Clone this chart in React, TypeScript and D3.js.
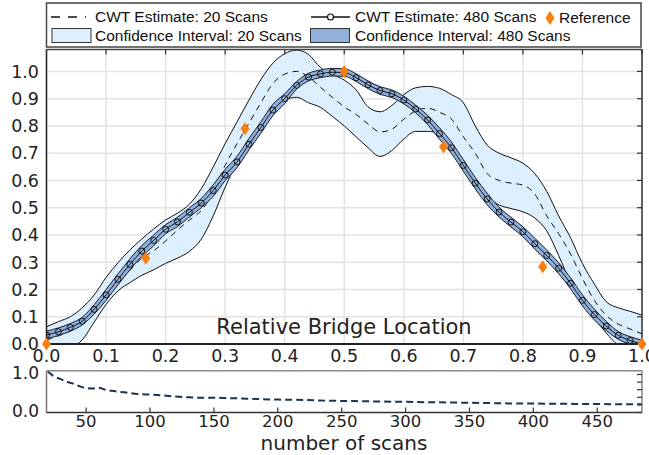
import React from 'react';
import * as d3 from 'd3';

const locations = [0,0.02,0.04,0.06,0.08,0.1,0.12,0.14,0.16,0.18,0.2,0.22,0.24,0.26,0.28,0.3,0.32,0.34,0.36,0.38,0.4,0.42,0.44,0.46,0.48,0.5,0.52,0.54,0.56,0.58,0.6,0.62,0.64,0.66,0.68,0.7,0.72,0.74,0.76,0.78,0.8,0.82,0.84,0.86,0.88,0.9,0.92,0.94,0.96,0.98,1.0];

const est20 = [0.015,0.03,0.048,0.075,0.115,0.165,0.22,0.27,0.315,0.342,0.378,0.418,0.455,0.49,0.556,0.655,0.735,0.81,0.885,0.955,0.99,1.0,0.98,0.942,0.905,0.87,0.842,0.807,0.778,0.788,0.825,0.855,0.865,0.85,0.825,0.76,0.70,0.625,0.60,0.59,0.583,0.55,0.47,0.405,0.33,0.24,0.16,0.105,0.073,0.055,0.037];
const ci20Hi = [0.063,0.082,0.10,0.133,0.18,0.244,0.298,0.345,0.385,0.422,0.455,0.48,0.513,0.57,0.65,0.735,0.815,0.895,0.97,1.03,1.065,1.078,1.062,1.015,0.99,0.968,0.932,0.87,0.852,0.875,0.915,0.94,0.945,0.938,0.915,0.885,0.80,0.73,0.70,0.683,0.663,0.625,0.56,0.47,0.39,0.295,0.22,0.155,0.133,0.12,0.106];
const ci20Lo = [-0.04,-0.03,-0.015,0.015,0.08,0.145,0.195,0.225,0.252,0.272,0.296,0.315,0.34,0.385,0.47,0.575,0.665,0.72,0.785,0.845,0.895,0.905,0.885,0.868,0.835,0.80,0.76,0.72,0.688,0.71,0.752,0.78,0.78,0.772,0.725,0.665,0.60,0.54,0.51,0.497,0.485,0.462,0.415,0.325,0.225,0.15,0.095,0.04,-0.005,-0.03,-0.04];

const est480 = [0.033,0.045,0.061,0.084,0.127,0.18,0.237,0.292,0.341,0.38,0.421,0.448,0.483,0.517,0.563,0.62,0.668,0.733,0.794,0.858,0.90,0.949,0.979,0.991,0.997,0.996,0.977,0.951,0.93,0.918,0.895,0.862,0.822,0.772,0.72,0.655,0.59,0.532,0.484,0.447,0.412,0.368,0.325,0.278,0.223,0.16,0.108,0.066,0.032,0.013,0.0];
const ci480Hi = [0.047,0.059,0.075,0.098,0.144,0.20,0.257,0.312,0.361,0.40,0.438,0.465,0.50,0.534,0.584,0.641,0.689,0.754,0.815,0.879,0.918,0.963,0.993,1.005,1.011,1.01,0.991,0.965,0.944,0.932,0.909,0.876,0.839,0.793,0.741,0.676,0.611,0.553,0.502,0.465,0.43,0.388,0.345,0.298,0.243,0.18,0.128,0.083,0.046,0.027,0.014];
const ci480Lo = [0.019,0.031,0.047,0.07,0.11,0.16,0.217,0.272,0.321,0.36,0.404,0.431,0.466,0.50,0.542,0.599,0.647,0.712,0.773,0.837,0.882,0.935,0.965,0.977,0.983,0.982,0.963,0.937,0.916,0.904,0.881,0.848,0.805,0.751,0.699,0.634,0.569,0.511,0.466,0.429,0.394,0.348,0.305,0.258,0.203,0.14,0.088,0.049,0.018,-0.001,-0.014];

const refLoc = [0, 0.1667, 0.3333, 0.5, 0.6667, 0.8333, 1.0];
const refVal = [0, 0.315, 0.79, 1.0, 0.724, 0.283, 0];

const xTicks = [0,0.1,0.2,0.3,0.4,0.5,0.6,0.7,0.8,0.9,1.0];
const yTicks = [0,0.1,0.2,0.3,0.4,0.5,0.6,0.7,0.8,0.9,1.0];

const scans = [20,25,30,35,40,45,50,55,60,65,70,80,90,100,110,120,130,140,150,160,180,200,220,240,260,280,300,320,340,360,380,400,420,440,460,480,485];
const scanErr = [1.08,0.95,0.88,0.81,0.76,0.69,0.64,0.63,0.65,0.60,0.57,0.53,0.49,0.47,0.45,0.42,0.40,0.39,0.39,0.38,0.36,0.34,0.33,0.31,0.30,0.29,0.28,0.27,0.26,0.25,0.24,0.235,0.23,0.225,0.22,0.215,0.215];
const scanTicks = [50,100,150,200,250,300,350,400,450];
const scanYTicks = [0,0.2,0.4,0.6,0.8,1.0];
const scanYLabels = [0,1.0];

const W = 649, H = 455;
const tickFont = 'DejaVu Sans, Verdana, sans-serif';
const legFont = 'Liberation Sans, Arial, sans-serif';

export default function App() {
  const x = d3.scaleLinear().domain([0, 1]).range([46.5, 642]);
  const y = d3.scaleLinear().domain([0, 1.08]).range([344, 49.6]);
  const xs = d3.scaleLinear().domain([19, 485]).range([46.5, 642]);
  const ys = d3.scaleLinear().domain([0, 1.1]).range([412.5, 370.7]);

  const idx = locations.map((_, i) => i);
  const curve = d3.curveMonotoneX;
  const lineOf = (arr: number[]) =>
    d3.line<number>().x(i => x(locations[i])).y(i => y(arr[i])).curve(curve)(idx) || '';
  const areaOf = (lo: number[], hi: number[]) =>
    d3.area<number>().x(i => x(locations[i])).y0(i => y(lo[i])).y1(i => y(hi[i])).curve(curve)(idx) || '';

  const scanLine = d3.line<number>().x((d, i) => xs(scans[i])).y(d => ys(d)).curve(d3.curveMonotoneX)(scanErr) || '';

  const [x0, x1] = x.range();
  const [yb, yt] = y.range();
  const diamond = (cx: number, cy: number, w = 4.5, h = 6.5) =>
    `M${cx},${cy - h}L${cx + w},${cy}L${cx},${cy + h}L${cx - w},${cy}Z`;

  return (
    <svg width={W} height={H} style={{ position: 'absolute', left: 0, top: 0, background: '#fff' }}>
      <defs>
        <clipPath id="plotClip">
          <rect x={x0} y={yt} width={x1 - x0} height={yb - yt} />
        </clipPath>
        <clipPath id="subClip">
          <rect x={xs.range()[0]} y={370.7} width={xs.range()[1] - xs.range()[0]} height={412.5 - 370.7} />
        </clipPath>
      </defs>
      <rect x={0} y={0} width={W} height={H} fill="#fff" />
      {/* grid */}
      <g stroke="#e3e3e3" strokeWidth={1.5}>
        {xTicks.map(t => <line key={'gx' + t} x1={x(t)} x2={x(t)} y1={yt} y2={yb} />)}
        {yTicks.map(t => <line key={'gy' + t} x1={x0} x2={x1} y1={y(t)} y2={y(t)} />)}
      </g>
      <g clipPath="url(#plotClip)">
        <path d={areaOf(ci20Lo, ci20Hi)} fill="#ddeefd" stroke="none" />
        <path d={lineOf(ci20Hi)} fill="none" stroke="#111" strokeWidth={1} />
        <path d={lineOf(ci20Lo)} fill="none" stroke="#111" strokeWidth={1} />
        <path d={lineOf(est20)} fill="none" stroke="#111" strokeWidth={1} strokeDasharray="6,5" />
        <path d={areaOf(ci480Lo, ci480Hi)} fill="#8fb1dc" stroke="none" />
        <path d={lineOf(ci480Hi)} fill="none" stroke="#1a1a2a" strokeWidth={1} />
        <path d={lineOf(ci480Lo)} fill="none" stroke="#1a1a2a" strokeWidth={1} />
        <path d={lineOf(est480)} fill="none" stroke="#111" strokeWidth={1} />
        {locations.map((l, i) => (
          <circle key={'c' + i} cx={x(l)} cy={y(est480[i])} r={3} fill="none" stroke="#111" strokeWidth={1} />
        ))}
      </g>
      {/* spines */}
      <line x1={x0} x2={x1} y1={yt} y2={yt} stroke="#444" strokeWidth={1.5} />
      <line x1={x1} x2={x1} y1={yt} y2={yb} stroke="#333" strokeWidth={1.5} />
      <line x1={x0} x2={x0} y1={yt} y2={yb} stroke="#222" strokeWidth={1.5} />
      <line x1={x0} x2={x1} y1={yb} y2={yb} stroke="#222" strokeWidth={2} />
      {/* ticks top and right */}
      <g stroke="#333" strokeWidth={1.2}>
        {xTicks.map(t => <line key={'tx' + t} x1={x(t)} x2={x(t)} y1={yt} y2={yt + 5} />)}
        {yTicks.map(t => <line key={'ty' + t} x1={x1} x2={x1 - 5} y1={y(t)} y2={y(t)} />)}
      </g>
      {/* reference diamonds */}
      {refLoc.map((l, i) => (
        <path key={'r' + i} d={diamond(x(l), y(refVal[i]))} fill="#f77f10" />
      ))}
      {/* tick labels */}
      <g fontFamily={tickFont} fontSize={17.5} fill="#222">
        {yTicks.map(t => (
          <text key={'ly' + t} x={39} y={y(t)} dy="0.36em" textAnchor="end">{t.toFixed(1)}</text>
        ))}
        {xTicks.map(t => (
          <text key={'lx' + t} x={x(t)} y={362} textAnchor="middle">{t.toFixed(1)}</text>
        ))}
      </g>
      <text x={344} y={334} textAnchor="middle" fontFamily={tickFont} fontSize={21} fill="#222">Relative Bridge Location</text>

      {/* subplot */}
      <path d={scanLine} fill="none" stroke="#1c3350" strokeWidth={2} strokeDasharray="7,4" clipPath="url(#subClip)" />
      <line x1={xs.range()[0]} x2={xs.range()[1]} y1={370.7} y2={370.7} stroke="#888" strokeWidth={1.5} />
      <line x1={xs.range()[0]} x2={xs.range()[0]} y1={370.7} y2={412.5} stroke="#777" strokeWidth={1.5} />
      <line x1={xs.range()[1]} x2={xs.range()[1]} y1={370.7} y2={412.5} stroke="#888" strokeWidth={1.5} />
      <line x1={xs.range()[0]} x2={xs.range()[1]} y1={412.5} y2={412.5} stroke="#333" strokeWidth={1.5} />
      <g stroke="#333" strokeWidth={1.2}>
        {scanTicks.map(t => <line key={'st' + t} x1={xs(t)} x2={xs(t)} y1={412.5} y2={407.5} />)}
        {scanYTicks.map(t => <line key={'sy' + t} x1={xs.range()[1]} x2={xs.range()[1] - 5} y1={ys(t)} y2={ys(t)} />)}
      </g>
      <g fontFamily={tickFont} fontSize={17} fill="#222">
        {scanYLabels.map(t => (
          <text key={'sly' + t} x={39} y={ys(t) - 2} dy="0.36em" textAnchor="end">{t.toFixed(1)}</text>
        ))}
      </g>
      <g fontFamily={tickFont} fontSize={16.5} fill="#222">
        {scanTicks.map(t => (
          <text key={'slx' + t} x={xs(t)} y={426.5} textAnchor="middle">{t}</text>
        ))}
      </g>
      <text x={344} y={450} textAnchor="middle" fontFamily={tickFont} fontSize={20} fill="#222">number of scans</text>

      {/* legend */}
      <rect x={46.5} y={3} width={594.5} height={44} fill="#fff" stroke="#444" strokeWidth={1.5} />
      <g fontFamily={legFont} fontSize={15.5} fill="#111">
        <line x1={51} x2={86} y1={17} y2={17} stroke="#111" strokeWidth={1.3} strokeDasharray="9,8" />
        <text x={95} y={17} dy="0.35em">CWT Estimate: 20 Scans</text>
        <line x1={311} x2={350} y1={17} y2={17} stroke="#111" strokeWidth={1.3} />
        <circle cx={330.5} cy={17} r={3} fill="#fff" stroke="#111" strokeWidth={1.2} />
        <text x={355} y={17} dy="0.35em">CWT Estimate: 480 Scans</text>
        <path d={diamond(550, 18, 4.5, 7)} fill="#f77f10" />
        <text x={559} y={18} dy="0.35em">Reference</text>
        <rect x={52} y={28.5} width={39} height={14} fill="#ddeefd" stroke="#333" strokeWidth={1} />
        <text x={95} y={36} dy="0.35em">Confidence Interval: 20 Scans</text>
        <rect x={310.5} y={28.5} width={39} height={14} fill="#8fb1dc" stroke="#333" strokeWidth={1} />
        <text x={355} y={36} dy="0.35em">Confidence Interval: 480 Scans</text>
      </g>
    </svg>
  );
}
